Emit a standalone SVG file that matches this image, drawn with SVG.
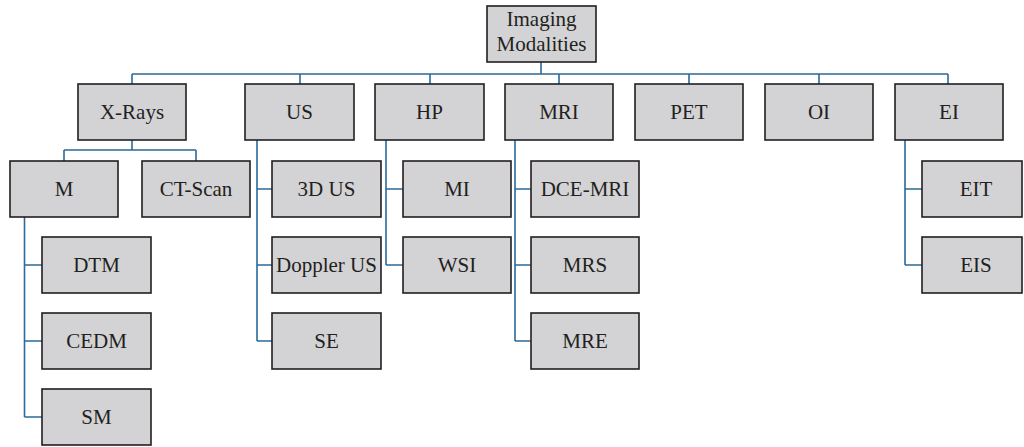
<svg xmlns="http://www.w3.org/2000/svg" width="1024" height="447" viewBox="0 0 1024 447">
<style>
rect{fill:#d3d3d5;stroke:#231f20;stroke-width:1.6}
text{font-family:"Liberation Serif","Times New Roman",serif;font-size:21px;fill:#231f20;text-anchor:middle}
.c path{fill:none;stroke:#2b6a9a;stroke-width:1.6}
</style>
<rect x="0" y="0" width="1024" height="447" style="fill:#fff;stroke:none"/>
<g class="c" id="connectors">
<path d="M541 62V74M132 74H948M132 74V84M300 74V84M430 74V84M559 74V84M689 74V84M819 74V84M948 74V84"/>
<path d="M132 140V150M64 150H196M64 150V161M196 150V161"/>
<path d="M24.5 217V417M24.5 265H42M24.5 341H42M24.5 417H42"/>
<path d="M257 140V341M257 189H272M257 265H272M257 341H272"/>
<path d="M386 140V265M386 189H403M386 265H403"/>
<path d="M515 140V341M515 189H531M515 265H531M515 341H531"/>
<path d="M905 140V265M905 189H922M905 265H922"/>
</g>
<g id="root"><rect x="487" y="6" width="109" height="56"/><text x="541.5" y="26">Imaging</text><text x="541.5" y="51">Modalities</text></g>
<g id="xrays"><rect x="78" y="84" width="108" height="56"/><text x="132" y="118.5">X-Rays</text></g>
<g id="us"><rect x="245" y="84" width="109" height="56"/><text x="299.5" y="118.5">US</text></g>
<g id="hp"><rect x="375" y="84" width="109" height="56"/><text x="429.5" y="118.5">HP</text></g>
<g id="mri"><rect x="505" y="84" width="108" height="56"/><text x="559" y="118.5">MRI</text></g>
<g id="pet"><rect x="635" y="84" width="108" height="56"/><text x="689" y="118.5">PET</text></g>
<g id="oi"><rect x="765" y="84" width="108" height="56"/><text x="819" y="118.5">OI</text></g>
<g id="ei"><rect x="895" y="84" width="108" height="56"/><text x="949" y="118.5">EI</text></g>
<g id="m"><rect x="10" y="161" width="108" height="56"/><text x="64" y="195.5">M</text></g>
<g id="ctscan"><rect x="142" y="161" width="108" height="56"/><text x="196" y="195.5">CT-Scan</text></g>
<g id="dtm"><rect x="42" y="237" width="109" height="56"/><text x="96.5" y="271.5">DTM</text></g>
<g id="cedm"><rect x="42" y="313" width="109" height="56"/><text x="96.5" y="347.5">CEDM</text></g>
<g id="sm"><rect x="42" y="389" width="109" height="56"/><text x="96.5" y="423.5">SM</text></g>
<g id="us3d"><rect x="272" y="161" width="109" height="56"/><text x="326.5" y="195.5">3D US</text></g>
<g id="doppler"><rect x="272" y="237" width="109" height="56"/><text x="326.5" y="271.5">Doppler US</text></g>
<g id="se"><rect x="272" y="313" width="109" height="56"/><text x="326.5" y="347.5">SE</text></g>
<g id="mi"><rect x="403" y="161" width="108" height="56"/><text x="457" y="195.5">MI</text></g>
<g id="wsi"><rect x="403" y="237" width="108" height="56"/><text x="457" y="271.5">WSI</text></g>
<g id="dcemri"><rect x="531" y="161" width="108" height="56"/><text x="585" y="195.5">DCE-MRI</text></g>
<g id="mrs"><rect x="531" y="237" width="108" height="56"/><text x="585" y="271.5">MRS</text></g>
<g id="mre"><rect x="531" y="313" width="108" height="56"/><text x="585" y="347.5">MRE</text></g>
<g id="eit"><rect x="922" y="161" width="100" height="56"/><text x="976" y="195.5">EIT</text></g>
<g id="eis"><rect x="922" y="237" width="100" height="56"/><text x="976" y="271.5">EIS</text></g>
</svg>
